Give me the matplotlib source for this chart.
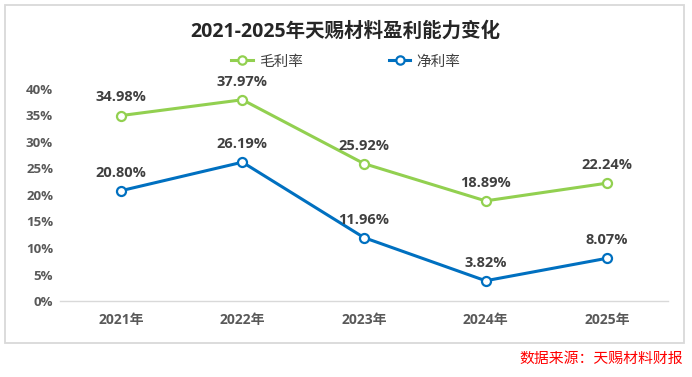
import matplotlib.pyplot as plt
from matplotlib.patches import Rectangle
from matplotlib.lines import Line2D

plt.rcParams['font.family'] = ['Open Sans', 'Noto Sans CJK SC', 'DejaVu Sans']

# 数据
years = ['2021年', '2022年', '2023年', '2024年', '2025年']
gross_margin = [34.98, 37.97, 25.92, 18.89, 22.24]
net_margin = [20.80, 26.19, 11.96, 3.82, 8.07]
y_ticks = [0, 5, 10, 15, 20, 25, 30, 35, 40]

green = '#92D050'
blue = '#0070C0'
label_color = '#404040'
tick_color = '#595959'

fig = plt.figure(figsize=(6.92, 3.77), dpi=100)
W, H = 692, 377

# 外框
fig.patches.append(Rectangle((5 / W, 1 - 343 / H), 679 / W, 338 / H,
                             transform=fig.transFigure, fill=False,
                             edgecolor='#D9D9D9', linewidth=1.3))

ax = fig.add_axes([60 / W, 1 - 301 / H, 608 / W, 212 / H])
x = range(len(years))

ax.plot(x, gross_margin, color=green, linewidth=2.2, marker='o', markersize=6.5,
        markerfacecolor='white', markeredgewidth=1.6, clip_on=False, zorder=3)
ax.plot(x, net_margin, color=blue, linewidth=2.2, marker='o', markersize=6.5,
        markerfacecolor='white', markeredgewidth=1.6, clip_on=False, zorder=3)

# 数据标签
for xs, vals in [(x, gross_margin), (x, net_margin)]:
    for i, v in zip(xs, vals):
        ax.annotate(f'{v:.2f}%', (i, v), xytext=(0, 8), textcoords='offset points',
                    ha='center', va='bottom', fontsize=10.5, fontweight='bold',
                    color=label_color, annotation_clip=False)

ax.set_xlim(-0.5, len(years) - 0.5)
ax.set_ylim(0, 40)
ax.set_yticks(y_ticks)
ax.set_yticklabels([f'{t}%' for t in y_ticks], fontsize=9.5, fontweight='bold', color=tick_color)
ax.set_xticks(list(x))
ax.set_xticklabels(years, fontsize=10, fontweight='bold', color=tick_color)
ax.tick_params(axis='both', length=0)
ax.tick_params(axis='y', pad=5)
ax.tick_params(axis='x', pad=8.5)

for side in ['top', 'right', 'left']:
    ax.spines[side].set_visible(False)
ax.spines['bottom'].set_color('#D9D9D9')
ax.spines['bottom'].set_linewidth(1.0)

# 标题
fig.text(345 / W, 1 - 32 / H, '2021-2025年天赐材料盈利能力变化', ha='center', va='center',
         fontsize=14, fontweight='bold', color='#262626')

# 图例
handles = [Line2D([], [], color=green, linewidth=2.2, marker='o', markersize=6,
                  markerfacecolor='white', markeredgewidth=1.6),
           Line2D([], [], color=blue, linewidth=2.2, marker='o', markersize=6,
                  markerfacecolor='white', markeredgewidth=1.6)]
fig.legend(handles, ['毛利率', '净利率'], loc='center', bbox_to_anchor=(346 / W, 1 - 62 / H),
           ncol=2, frameon=False, fontsize=10.5, handlelength=1.45, columnspacing=5.9,
           handletextpad=0.45, labelcolor='#404040')

# 数据来源
fig.text(683 / W, 1 - 359 / H, '数据来源：天赐材料财报', ha='right', va='center',
         fontsize=10.7, color='#FF0000')

fig.savefig('out.png', dpi=100)
